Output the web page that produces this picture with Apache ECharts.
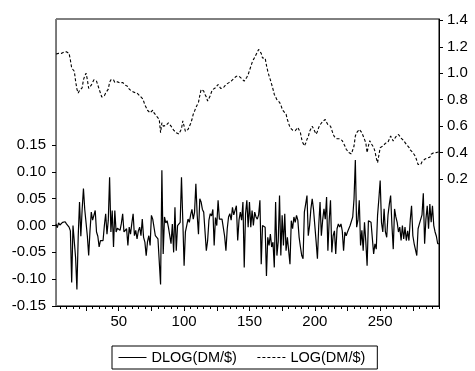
<!DOCTYPE html>
<html>
<head>
<meta charset="utf-8">
<script src="https://cdn.jsdelivr.net/npm/echarts@6/dist/echarts.min.js"></script>
<style>
  html, body { margin: 0; padding: 0; background: #fff; }
  #main { width: 475px; height: 371px; }
</style>
</head>
<body>
<div id="main"></div>
<script>
// observations 2..295
var obsFirst = 2;

var dlog = [
  0.003, -0.004, 0.005, 0.001, -0.002, 0.006, 0.004, 0.007, 0.003, 0.002, -0.003, -0.01, -0.106, 0.0, -0.002, -0.06, -0.119, -0.02, 0.044,
  -0.02, 0.03, 0.069, 0.03, 0.028, -0.02, -0.056, -0.01, 0.025, 0.01, 0.012, 0.028, -0.012, -0.02, -0.04, -0.028, -0.025, -0.028, 0.0,
  0.022, -0.016, 0.01, 0.09, -0.012, 0.028, -0.04, 0.028, -0.012, -0.005, -0.003, -0.009, 0.004, 0.022, -0.012, -0.009, -0.006, -0.037,
  -0.003, -0.016, 0.004, 0.022, -0.019, -0.009, -0.025, -0.01, -0.003, -0.019, 0.012, -0.022, -0.031, -0.056, -0.03, -0.019, -0.037,
  0.019, 0.012, 0.01, -0.019, -0.019, -0.025, -0.028, -0.11, 0.103, -0.053, 0.016, 0.005, 0.009, -0.003, -0.003, -0.034, 0.003, -0.05,
  0.034, -0.047, 0.0, 0.002, 0.006, 0.09, 0.01, -0.075,
  -0.012, 0.0, 0.012, 0.006, 0.02, 0.03, 0.012, 0.025, 0.078, 0.02, -0.016, 0.05, 0.044, 0.03, 0.025, 0.028, -0.047, -0.028, 0.01, 0.022,
  0.018, 0.03, -0.037, 0.015, 0.0, 0.047, 0.012, 0.015, 0.012, 0.01, -0.02, -0.047, -0.006, 0.016, 0.022, 0.01, 0.034, 0.02, 0.018, 0.037,
  -0.028, 0.01, 0.025, 0.01, 0.044, -0.078, 0.022, 0.047, -0.003, 0.044, -0.003, 0.028, 0.0, 0.025, 0.016, 0.012, 0.02, 0.047, -0.072,
  0.0, 0.002, -0.003, -0.094, -0.022, -0.037, -0.016, -0.04, -0.031, -0.078, 0.044, -0.056, -0.03, 0.056, -0.056, 0.019, -0.037, 0.022,
  -0.047, -0.022, -0.025, -0.072, 0.009, -0.006, 0.016, 0.006, 0.019, 0.01, -0.022, -0.04, -0.056, -0.062, 0.025, 0.04, 0.056, -0.019,
  0.0, 0.031, 0.05, 0.03,
  0.0, -0.03, -0.062, 0.0, 0.044, -0.019, 0.01, 0.031, 0.012, 0.053, -0.047, 0.01, 0.047, -0.05, -0.019, -0.01, -0.053, -0.006, 0.003,
  -0.003, 0.003, -0.01, -0.047, -0.012, -0.019, -0.012, -0.006, 0.0, 0.003, 0.016, 0.05, 0.122, -0.003, 0.01, 0.047, -0.037, -0.009,
  -0.047, 0.006, -0.03, -0.075, 0.009, 0.006, 0.006, 0.009, -0.053, -0.034, -0.044, 0.019, 0.05, 0.084, 0.006, -0.012, 0.031, -0.012,
  -0.022, 0.02, 0.04, 0.056, 0.0, -0.044, 0.031, 0.016, 0.006, -0.012, -0.003, -0.028, 0.0, -0.025, -0.003, -0.028, -0.01, -0.028, 0.01,
  0.037, -0.019, -0.034, -0.045, -0.056, -0.006, 0.003, 0.0, 0.02, 0.06, -0.034, 0.012, 0.037, -0.006, 0.04, 0.006, 0.037, 0.0, -0.012,
  -0.02, -0.034, -0.034
];

var logv = [
  1.146, 1.14, 1.15, 1.148, 1.15, 1.152, 1.16, 1.158, 1.162, 1.16, 1.15, 1.10, 1.04, 1.03, 1.015, 0.94, 0.88, 0.85, 0.87, 0.86, 0.89,
  0.95, 0.98, 1.0, 0.95, 0.885, 0.9, 0.91, 0.93, 0.95, 0.96, 0.94, 0.91, 0.88, 0.85, 0.82, 0.81, 0.83, 0.85, 0.84, 0.88, 0.93, 0.95,
  0.94, 0.95, 0.93, 0.94, 0.935, 0.93, 0.925, 0.935, 0.93, 0.915, 0.91, 0.905, 0.9, 0.88, 0.87, 0.865, 0.86, 0.855, 0.85, 0.85, 0.84,
  0.83, 0.825, 0.81, 0.79, 0.76, 0.74, 0.72, 0.71, 0.70, 0.715, 0.72, 0.70, 0.685, 0.675, 0.66, 0.65, 0.55, 0.625, 0.60, 0.61, 0.605,
  0.615, 0.625, 0.61, 0.60, 0.59, 0.57, 0.56, 0.55, 0.545, 0.54, 0.56, 0.58, 0.64, 0.60,
  0.56, 0.57, 0.575, 0.59, 0.62, 0.65, 0.69, 0.713, 0.74, 0.73, 0.78, 0.83, 0.877, 0.87, 0.865, 0.84, 0.82, 0.79, 0.80, 0.83, 0.86,
  0.877, 0.87, 0.89, 0.90, 0.915, 0.90, 0.885, 0.877, 0.89, 0.905, 0.915, 0.92, 0.927, 0.935, 0.94, 0.95, 0.96, 0.965, 0.977, 0.975,
  0.977, 0.97, 0.96, 0.95, 0.94, 0.95, 0.97, 0.99, 1.02, 1.05, 1.08, 1.103, 1.12, 1.14, 1.16, 1.18, 1.19, 1.15, 1.115, 1.12, 1.115,
  1.06, 1.015, 0.98, 0.95, 0.915, 0.88, 0.84, 0.82, 0.80, 0.79, 0.78, 0.76, 0.73, 0.713, 0.70, 0.69, 0.65, 0.62, 0.59, 0.58, 0.57,
  0.56, 0.565, 0.575, 0.59, 0.57, 0.55, 0.50, 0.47, 0.45, 0.47, 0.50, 0.52, 0.56, 0.58, 0.60, 0.58,
  0.56, 0.54, 0.56, 0.59, 0.61, 0.62, 0.635, 0.645, 0.65, 0.63, 0.61, 0.625, 0.60, 0.57, 0.54, 0.52, 0.51, 0.505, 0.50, 0.505, 0.50,
  0.49, 0.47, 0.45, 0.425, 0.41, 0.40, 0.395, 0.39, 0.387, 0.45, 0.525, 0.55, 0.56, 0.575, 0.56, 0.55, 0.54, 0.50, 0.474, 0.40, 0.45,
  0.49, 0.47, 0.46, 0.44, 0.41, 0.36, 0.323, 0.38, 0.436, 0.44, 0.45, 0.46, 0.47, 0.475, 0.48, 0.487, 0.525, 0.51, 0.487, 0.50, 0.52,
  0.53, 0.537, 0.53, 0.51, 0.50, 0.49, 0.475, 0.462, 0.45, 0.44, 0.42, 0.41, 0.40, 0.387, 0.37, 0.34, 0.31, 0.305, 0.31, 0.33, 0.345,
  0.349, 0.35, 0.36, 0.37, 0.365, 0.387, 0.39, 0.40, 0.395, 0.40, 0.41, 0.405
];

var xMinorTicks = [5,10,15,20,25,30,35,40,45,50,55,60,65,70,75,80,85,90,95,100,105,110,115,120,125,130,135,140,145,150,
  155,160,165,170,175,180,185,190,195,200,205,210,215,220,225,230,235,240,245,250,255,260,265,270,275,280,285,290,295];
var xMajorTicks = [25, 50, 75, 100, 125, 150, 175, 200, 225, 250, 275];
var xLabels = [50, 100, 150, 200, 250];
var leftTicks = [-0.15, -0.10, -0.05, 0.00, 0.05, 0.10, 0.15];
var rightTicks = [0.2, 0.4, 0.6, 0.8, 1.0, 1.2, 1.4];

var dlogPts = dlog.map(function (v, i) { return [obsFirst + i, v]; });
var logPts = logv.map(function (v, i) { return [obsFirst + i, v]; });

var font = 'Liberation Sans, Arial, sans-serif';
var chart = echarts.init(document.getElementById('main'));

chart.setOption({
  animation: false,
  backgroundColor: '#fff',
  textStyle: { fontFamily: font },
  grid: {
    left: 56, right: 36, top: 19, bottom: 65,
    show: true, borderColor: '#000', borderWidth: 1
  },
  legend: {
    left: 112, top: 346,
    padding: [4, 12, 4, 6],
    borderColor: '#000', borderWidth: 1,
    itemWidth: 28, itemHeight: 12, itemGap: 20,
    itemStyle: { opacity: 0 },
    lineStyle: { width: 1 },
    textStyle: { fontSize: 14.5, color: '#000', fontFamily: font },
    data: ['DLOG(DM/$)', 'LOG(DM/$)']
  },
  xAxis: [
    {
      type: 'value', min: 2, max: 295, position: 'bottom',
      axisLine: { show: true, onZero: false, lineStyle: { color: '#000', width: 1 } },
      axisTick: { show: true, customValues: xMinorTicks, length: 3, lineStyle: { color: '#000' } },
      axisLabel: { customValues: xLabels, fontSize: 15, color: '#000', margin: 8, fontFamily: font },
      splitLine: { show: false }
    },
    {
      type: 'value', min: 2, max: 295, position: 'bottom', offset: 0,
      axisLine: { show: false, onZero: false },
      axisTick: { show: true, customValues: xMajorTicks, length: 5, lineStyle: { color: '#000' } },
      axisLabel: { show: false },
      splitLine: { show: false }
    }
  ],
  yAxis: [
    {
      type: 'value', min: -0.15, max: 0.385, position: 'left',
      axisLine: { show: true, onZero: false, lineStyle: { color: '#777', width: 1 } },
      axisTick: { show: true, customValues: leftTicks, length: 4, lineStyle: { color: '#000' } },
      axisLabel: {
        customValues: leftTicks, fontSize: 15, color: '#000', margin: 10, fontFamily: font,
        formatter: function (v) { return v.toFixed(2); }
      },
      splitLine: { show: false }
    },
    {
      type: 'value', min: -0.76, max: 1.41, position: 'right',
      axisLine: { show: true, onZero: false, lineStyle: { color: '#000', width: 1 } },
      axisTick: { show: true, customValues: rightTicks, length: 4, lineStyle: { color: '#000' } },
      axisLabel: {
        customValues: rightTicks, fontSize: 15, color: '#000', margin: 8, fontFamily: font,
        formatter: function (v) { return v.toFixed(1); }
      },
      splitLine: { show: false }
    }
  ],
  series: [
    {
      name: 'DLOG(DM/$)', type: 'line', xAxisIndex: 0, yAxisIndex: 0,
      data: dlogPts, symbol: 'none',
      lineStyle: { color: '#000', width: 1.2 },
      itemStyle: { color: '#000' }
    },
    {
      name: 'LOG(DM/$)', type: 'line', xAxisIndex: 0, yAxisIndex: 1,
      data: logPts, symbol: 'none',
      lineStyle: { color: '#000', width: 1.1, type: [3, 2] },
      itemStyle: { color: '#000' }
    }
  ]
});
</script>
</body>
</html>
